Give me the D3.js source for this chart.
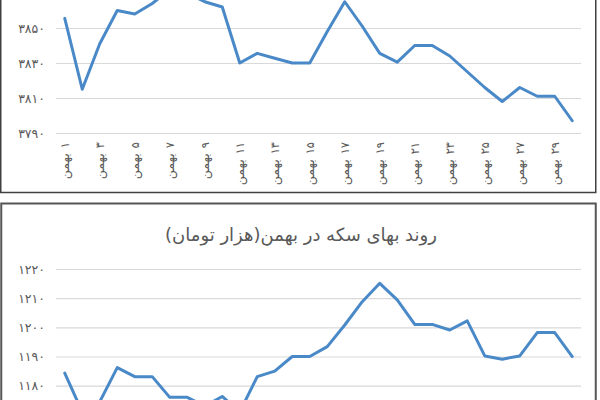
<!DOCTYPE html>
<html><head><meta charset="utf-8">
<script src="https://cdn.jsdelivr.net/npm/d3@7"></script>
<style>body{margin:0;background:#fff;}svg{display:block;font-family:"DejaVu Sans",sans-serif;}</style>
</head><body>
<svg id="c" width="600" height="400"></svg>
<script>
const categories = ["بهمن ۱","بهمن ۲","بهمن ۳","بهمن ۴","بهمن ۵","بهمن ۶","بهمن ۷","بهمن ۸","بهمن ۹","بهمن ۱۰",
"بهمن ۱۱","بهمن ۱۲","بهمن ۱۳","بهمن ۱۴","بهمن ۱۵","بهمن ۱۶","بهمن ۱۷","بهمن ۱۸","بهمن ۱۹","بهمن ۲۰",
"بهمن ۲۱","بهمن ۲۲","بهمن ۲۳","بهمن ۲۴","بهمن ۲۵","بهمن ۲۶","بهمن ۲۷","بهمن ۲۸","بهمن ۲۹","بهمن ۳۰"];
const monthWord = "بهمن";
const labelDays = ["۱","","۳","","۵","","۷","","۹","","۱۱","","۱۳","","۱۵","",
"۱۷","","۱۹","","۲۱","","۲۳","","۲۵","","۲۷","","۲۹",""];
const topValues = [3855.5,3815,3841,3860,3858,3864,3872,3870,3865,3862,3830,3835.5,3832.7,3830,3830,3848,3865,3851,3835.5,3830.5,
3840,3840,3834,3825,3816,3808,3816,3811,3811,3797];
const topTicks = [3790,3810,3830,3850];
const topTickLabels = ["۳۷۹۰","۳۸۱۰","۳۸۳۰","۳۸۵۰"];
const coinValues = [1184.3,1171,1174.5,1186.2,1183.1,1183.1,1176,1176,1173,1176.3,1171,1183.1,1185,1190,1190,1193.4,1200.8,1208.8,1215.1,1209.4,
1201,1201,1199.1,1202.2,1190.2,1189.1,1190.2,1198.2,1198.2,1190];
const coinTicks = [1180,1190,1200,1210,1220];
const coinTickLabels = ["۱۱۸۰","۱۱۹۰","۱۲۰۰","۱۲۱۰","۱۲۲۰"];
const title = "روند بهای سکه در بهمن(هزار تومان)";

const svg = d3.select("#c");
const textColor = "#595959", gridColor = "#d9d9d9", lineColor = "#4a89c8";
const x = d3.scalePoint().domain(categories).range([56,581]).padding(0.5);
const xL = 56, xR = 581;

svg.append("rect").attr("x",0.75).attr("y",-10).attr("width",595).attr("height",202.5)
  .attr("fill","#fff").attr("stroke","#404040").attr("stroke-width",1.5);
svg.append("rect").attr("x",1.25).attr("y",203.5).attr("width",594.5).attr("height",220)
  .attr("fill","#fff").attr("stroke","#555").attr("stroke-width",2);

function panel(values, ticks, tickLabels, yScale, showX, xLabelTop){
  const g = svg.append("g");
  const grid = g.append("g").attr("transform",`translate(${xL},0)`)
    .call(d3.axisLeft(yScale).tickValues(ticks).tickSize(-(xR-xL)).tickFormat(""));
  grid.select(".domain").remove();
  grid.selectAll("line").attr("stroke",gridColor).attr("stroke-width",1.2);
  const ya = g.append("g").attr("transform",`translate(45,0)`)
    .call(d3.axisLeft(yScale).tickValues(ticks).tickSize(0).tickPadding(0)
      .tickFormat((d,i)=>tickLabels[i]));
  ya.select(".domain").remove();
  ya.selectAll("text").attr("fill",textColor).style("font-size","12.5px")
    .style("letter-spacing","1.8px").style("font-family","DejaVu Sans");
  if(showX){
    const lg = g.append("g").selectAll("g").data(categories.filter((d,i)=>labelDays[i]!=="")).join("g")
      .attr("transform",d=>`translate(${x(d)},${xLabelTop}) rotate(-90)`);
    lg.each(function(d){
      const i = categories.indexOf(d);
      const s = d3.select(this);
      const num = s.append("text").attr("text-anchor","end").attr("dy","0.35em")
        .attr("fill",textColor).style("font-size","11.5px").text(labelDays[i]);
      const w = num.node().getComputedTextLength();
      s.append("text").attr("x",-(w+5)).attr("text-anchor","end").attr("dy","0.35em")
        .attr("fill",textColor).style("font-size","12.5px").text(monthWord);
    });
  }
  const line = d3.line().x((d,i)=>x(categories[i])).y(d=>yScale(d));
  g.append("path").datum(values).attr("d",line).attr("fill","none")
    .attr("stroke",lineColor).attr("stroke-width",3).attr("stroke-linejoin","round").attr("stroke-linecap","round");
}

const yTop = d3.scaleLinear().domain([3790,3850]).range([133,28]);
panel(topValues, topTicks, topTickLabels, yTop, true, 142);

const yBot = d3.scaleLinear().domain([1180,1220]).range([385.7,269]);
panel(coinValues, coinTicks, coinTickLabels, yBot, false, 0);

svg.append("text").attr("x",301).attr("y",241).attr("text-anchor","middle")
  .attr("fill",textColor).style("font-size","18px").text(title);
</script>
</body></html>
